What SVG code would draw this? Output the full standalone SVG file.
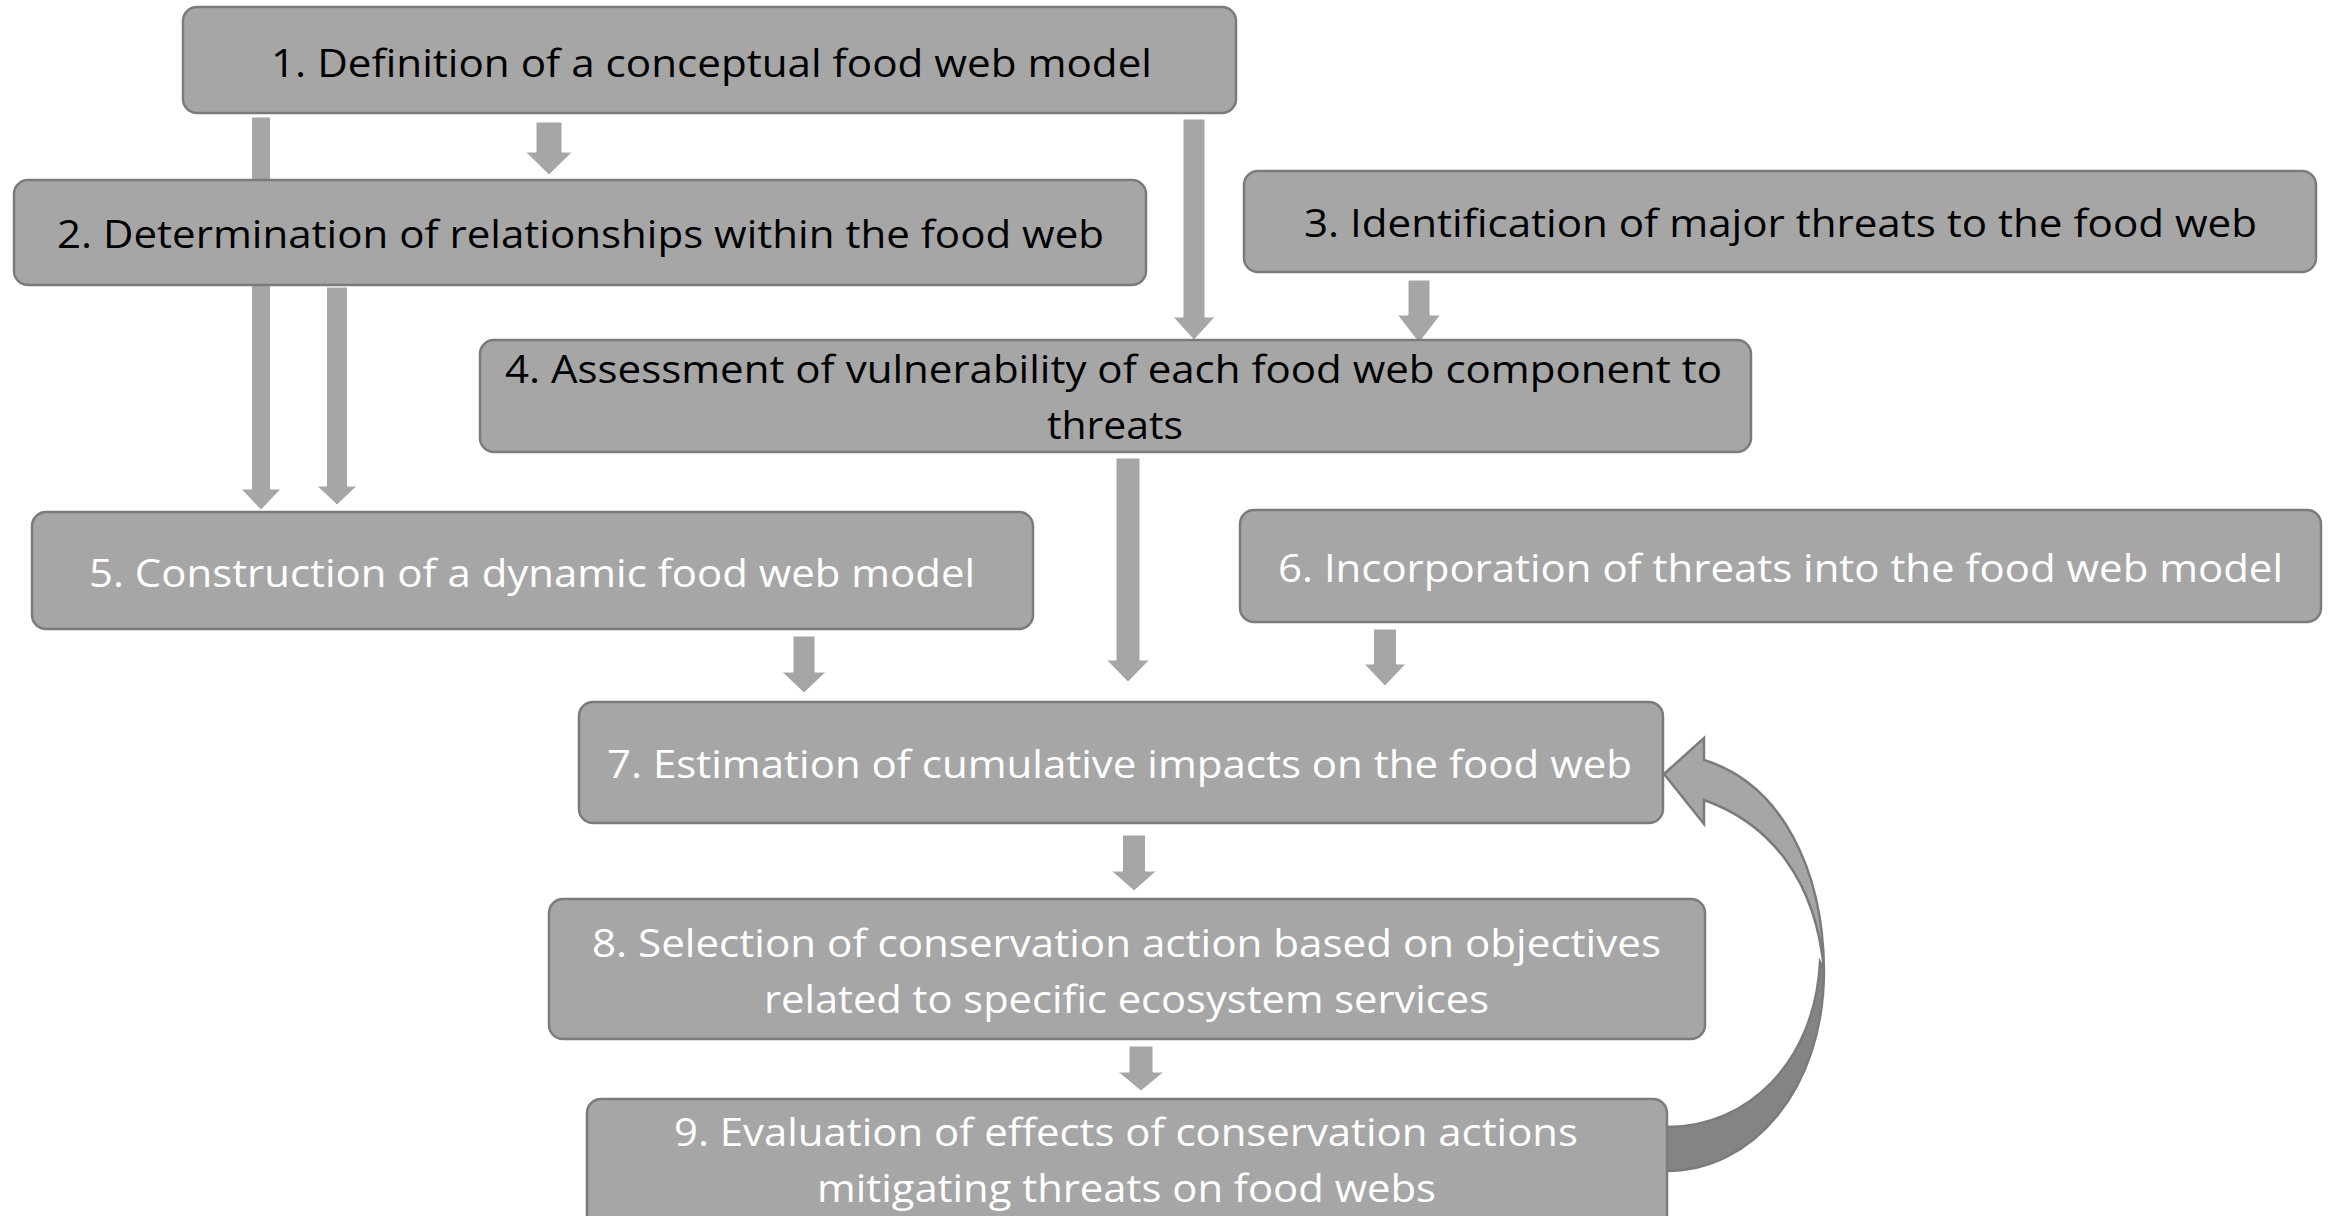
<svg xmlns="http://www.w3.org/2000/svg" width="2331" height="1216" viewBox="0 0 2331 1216">
<style>
.box{fill:#a6a6a6;stroke:#7b7b7b;stroke-width:2.5}
.arr{fill:#a6a6a6;stroke:#ffffff;stroke-width:1}
.t{font-family:"Open Sans","Liberation Sans",sans-serif;font-size:38px}
.dk{fill:#000000}
.lt{fill:#ffffff}
.curve-light{fill:#a6a6a6;stroke:#7b7b7b;stroke-width:2.5;stroke-linejoin:miter}
.curve-dark{fill:#848484;stroke:#7b7b7b;stroke-width:2.5}
</style>
<rect width="2331" height="1216" fill="#ffffff"/>
<g id="connectors">
<path class="arr" d="M536,122 H562 V152 H572.5 L549,175 L525.5,152 H536 Z"/>
<path class="arr" d="M251.5,117 H270.5 V489 H281 L261,510 L241,489 H251.5 Z"/>
<path class="arr" d="M326.5,287 H347.5 V486 H357 L337,505 L317,486 H326.5 Z"/>
<path class="arr" d="M1183,119 H1205 V317 H1215 L1194,340 L1173,317 H1183 Z"/>
<path class="arr" d="M1408,280 H1430 V315 H1440.5 L1419,343 L1397.5,315 H1408 Z"/>
<path class="arr" d="M1116,458 H1140 V660 H1149.5 L1128,682 L1106.5,660 H1116 Z"/>
<path class="arr" d="M793,636 H815 V672 H826 L804,693 L782,672 H793 Z"/>
<path class="arr" d="M1373.5,629 H1396.5 V664 H1406 L1385,686 L1364,664 H1373.5 Z"/>
<path class="arr" d="M1122.5,835 H1145.5 V871 H1156.5 L1134,891 L1111.5,871 H1122.5 Z"/>
<path class="arr" d="M1129,1046 H1153 V1072 H1164 L1141,1091 L1118,1072 H1129 Z"/>
<path class="curve-dark" d="M1824,970 C1824,1090 1752,1171 1667,1171 L1667,1127 C1748,1127 1815,1062 1820,962 Z"/>
<path class="curve-light" d="M1664,774 L1704,738 L1704,760 C1782,784 1823,870 1824,970 C1816,882 1772,824 1704,800 L1704,824 Z"/>
</g>
<g id="node1">
<rect class="box" x="183" y="7" width="1053" height="106" rx="14"/>
<text class="t dk" x="271" y="77" textLength="881" lengthAdjust="spacingAndGlyphs">1. Definition of a conceptual food web model</text>
</g>
<g id="node2">
<rect class="box" x="14" y="180" width="1132" height="105" rx="14"/>
<text class="t dk" x="57" y="248" textLength="1047" lengthAdjust="spacingAndGlyphs">2. Determination of relationships within the food web</text>
</g>
<g id="node3">
<rect class="box" x="1244" y="171" width="1072" height="101" rx="14"/>
<text class="t dk" x="1304" y="237" textLength="953" lengthAdjust="spacingAndGlyphs">3. Identification of major threats to the food web</text>
</g>
<g id="node4">
<rect class="box" x="480" y="340" width="1271" height="112" rx="14"/>
<text class="t dk" x="505" y="383" textLength="1217" lengthAdjust="spacingAndGlyphs">4. Assessment of vulnerability of each food web component to</text>
<text class="t dk" x="1047" y="439" textLength="136" lengthAdjust="spacingAndGlyphs">threats</text>
</g>
<g id="node5">
<rect class="box" x="32" y="512" width="1001" height="117" rx="14"/>
<text class="t lt" x="89" y="587" textLength="886" lengthAdjust="spacingAndGlyphs">5. Construction of a dynamic food web model</text>
</g>
<g id="node6">
<rect class="box" x="1240" y="510" width="1081" height="112" rx="14"/>
<text class="t lt" x="1278" y="582" textLength="1005" lengthAdjust="spacingAndGlyphs">6. Incorporation of threats into the food web model</text>
</g>
<g id="node7">
<rect class="box" x="579" y="702" width="1084" height="121" rx="14"/>
<text class="t lt" x="607" y="778" textLength="1025" lengthAdjust="spacingAndGlyphs">7. Estimation of cumulative impacts on the food web</text>
</g>
<g id="node8">
<rect class="box" x="549" y="899" width="1156" height="140" rx="14"/>
<text class="t lt" x="592" y="957" textLength="1069" lengthAdjust="spacingAndGlyphs">8. Selection of conservation action based on objectives</text>
<text class="t lt" x="764" y="1013" textLength="725" lengthAdjust="spacingAndGlyphs">related to specific ecosystem services</text>
</g>
<g id="node9">
<rect class="box" x="587" y="1099" width="1080" height="140" rx="14"/>
<text class="t lt" x="674" y="1146" textLength="904" lengthAdjust="spacingAndGlyphs">9. Evaluation of effects of conservation actions</text>
<text class="t lt" x="817" y="1202" textLength="619" lengthAdjust="spacingAndGlyphs">mitigating threats on food webs</text>
</g>
</svg>
